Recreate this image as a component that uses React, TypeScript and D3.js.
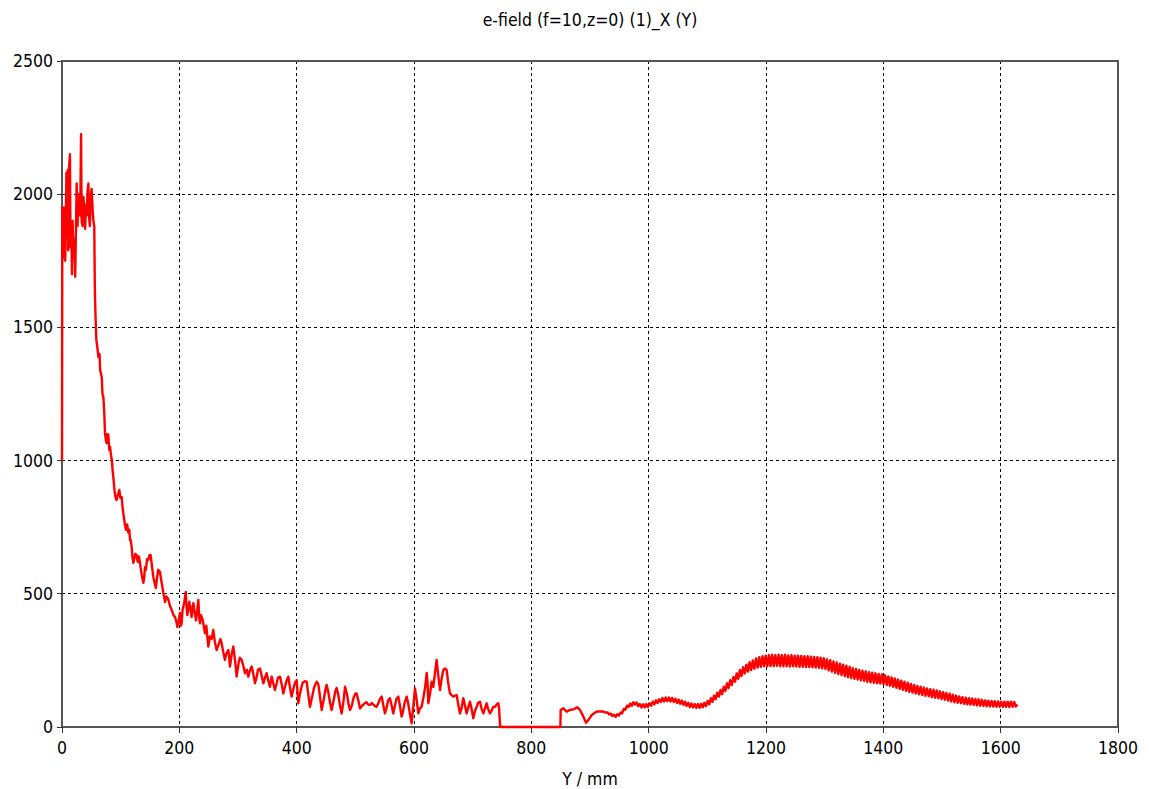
import React from "react";
import * as d3 from "d3";

// ---- data (Y in mm, field value) ----
const noisyX: number[] = [
  0, 0.5, 1.5, 2.5, 3.5, 4.5, 5.5, 6.5, 7.5, 8.5, 9.5, 10.5, 12, 13.5, 14.5, 16, 17, 18, 19.5, 21,
  22.5, 24, 25, 26.5, 28, 29.5, 31, 32.5, 33.5, 35, 36.5, 38, 39.5, 41, 42, 43.5, 45, 46, 47.5, 49,
  50.5, 52, 53.5, 55, 56, 57, 58.5, 60, 62, 64, 65, 67.7, 69, 70.5, 72, 73.3, 74.5, 76, 77.5, 79,
  80.5, 82, 83.5, 85, 86, 87.5, 89, 90, 91.5, 93, 95, 97.7, 99.5, 101.8, 103, 104.5, 106, 107.4, 109, 111,
  113, 114.8, 116, 117, 118.8, 120, 121.6, 123, 125, 127, 129, 131, 133, 134.5, 136, 138.7, 140, 141.5, 143, 145,
  147, 149, 151, 153, 155.7, 158, 160, 162, 164, 167, 168.5, 170, 171.5, 172.8, 174, 175.6, 178, 181, 184, 187,
  190, 192.7, 195, 196.6, 199, 201, 202.5, 204, 205.5, 206.8, 208.5, 211, 212, 213.6, 215, 217, 219, 221, 222.5, 224,
  226, 228.5, 230.5, 232.4, 234, 235.2, 237, 240, 243.7, 246, 249.4, 252, 255, 257.9, 260.5, 263.6, 267, 270, 272.1, 275,
  277.8, 280, 283.5, 285, 286.3, 289, 292, 295, 297.7, 301, 303, 306.2, 309, 311.9, 315, 317.6, 320, 323.3, 326, 329,
  332, 334, 337.5, 340, 343.2, 346, 348.8, 351.5, 354.5, 357.4, 360, 363, 366, 368, 371.6, 374.5, 377.2, 380, 383, 385.8,
  388.5, 391.4, 394, 397, 400, 402.8, 406, 410, 414, 417, 420, 422.7, 426, 430, 434, 437, 440, 442.6, 446, 449,
  451.1, 454, 457, 459.6, 463, 466, 468.2, 471, 474, 476.7, 480, 482.4, 486, 488.5, 490.9, 494, 497, 500, 502.2, 505,
  507.9, 511, 514, 516.4, 519, 522, 525, 528, 531, 533.5, 536.3, 539, 542, 544.9, 547, 550.5, 553, 556, 559, 562,
  564.7, 567, 570, 573.3, 576, 578.9, 581, 584, 587.5, 590, 593, 596, 598, 601.7, 604, 607.4, 610, 613, 616, 619,
  621.6, 623, 624.4, 627, 630.1, 632.9, 635, 638.6, 641, 644.3, 647, 650, 653, 655.7, 658, 661.3, 664, 667, 670, 672.7,
  675, 678.4, 681, 684, 687, 689.7, 692, 695.4, 698, 701.1, 704, 706.8, 709, 712.5, 715, 718.2, 721, 723.8, 726, 729.5,
  732, 735, 738, 741, 743.7, 745, 746.6, 747.5, 849.5, 850, 854.6, 860.2, 865.9, 871.6, 878.4, 883, 888.7, 893.2, 897.2, 902.9,
  911.4, 922.7, 927,
];
const noisyY: number[] = [
  1000, 1950, 1900, 1760, 1950, 1800, 1750, 1900, 2080, 1850, 2090, 1790, 2100, 2150, 1800, 1880, 1700, 1900, 1760, 1830,
  1690, 1900, 2040, 1880, 2000, 1950, 1920, 2225, 1900, 1880, 1990, 1950, 1870, 1960, 1920, 2010, 2040, 1920, 1880, 1990,
  2020, 1950, 1900, 1880, 1640, 1550, 1453, 1430, 1389, 1400, 1340, 1314, 1250, 1239, 1180, 1104, 1080, 1066, 1100, 1096,
  1040, 1051, 1020, 1002, 970, 938, 900, 878, 860, 852, 870, 890, 860, 863, 830, 803, 780, 758, 740, 760,
  730, 740, 700, 702, 676, 640, 616, 630, 650, 646, 620, 640, 616, 590, 570, 541, 560, 600, 590, 630,
  627, 645, 646, 610, 563, 540, 522, 560, 590, 582, 560, 540, 520, 503, 490, 469, 490, 480, 455, 439,
  420, 413, 395, 375, 400, 428, 380, 390, 440, 450, 470, 507, 460, 420, 440, 470, 440, 413, 450, 465,
  430, 400, 440, 477, 410, 389, 420, 400, 352, 380, 302, 340, 330, 364, 320, 289, 310, 330, 314, 280,
  252, 275, 289, 260, 227, 270, 302, 250, 189, 240, 260, 252, 230, 202, 215, 189, 210, 227, 200, 164,
  190, 215, 220, 195, 164, 185, 202, 175, 151, 189, 165, 139, 165, 185, 189, 160, 126, 150, 175, 189,
  150, 114, 140, 165, 176, 89, 130, 165, 172, 170, 120, 76, 110, 150, 170, 160, 110, 64, 100, 140,
  158, 130, 90, 64, 100, 135, 146, 120, 80, 51, 100, 151, 120, 85, 64, 80, 110, 125, 126, 100,
  70, 78, 85, 89, 93, 84, 83, 90, 84, 78, 76, 88, 105, 114, 90, 51, 70, 100, 108, 80,
  51, 75, 105, 114, 80, 39, 55, 90, 114, 90, 50, 14, 60, 145, 110, 51, 70, 76, 110, 150,
  203, 170, 89, 120, 170, 151, 190, 252, 200, 139, 180, 214, 220, 214, 170, 126, 120, 114, 118, 120,
  90, 51, 70, 108, 80, 51, 70, 95, 70, 33, 60, 76, 90, 95, 70, 51, 70, 89, 70, 51,
  60, 75, 76, 85, 89, 70, 8, 0, 0, 64, 70, 58, 64, 66, 74, 64, 39, 16, 26, 45,
  58, 58, 54,
];

// dense oscillating part, sampled on a regular Y grid
const combStart = 930;
const combStep = 2.75;
const combY: number[] = [
  55, 47, 50, 41, 46, 38, 48, 43, 54, 51, 68, 65, 80, 75, 88, 80, 93, 84, 92, 78,
  86, 73, 85, 73, 86, 75, 89, 80, 95, 85, 100, 90, 104, 94, 109, 96, 111, 97, 111, 96,
  109, 94, 106, 90, 103, 87, 99, 83, 95, 79, 91, 75, 88, 73, 86, 72, 86, 72, 87, 74,
  91, 78, 98, 85, 108, 94, 118, 104, 129, 114, 139, 123, 151, 135, 164, 146, 176, 158, 188, 170,
  201, 181, 214, 191, 224, 201, 234, 208, 243, 214, 250, 219, 257, 223, 262, 226, 266, 228, 268, 228,
  270, 229, 271, 229, 270, 230, 271, 228, 270, 228, 271, 228, 269, 227, 270, 228, 268, 227, 268, 226,
  267, 226, 266, 225, 266, 225, 264, 224, 263, 223, 262, 222, 260, 220, 258, 218, 254, 213, 251, 208,
  246, 203, 242, 199, 238, 195, 234, 191, 230, 187, 226, 184, 221, 181, 218, 178, 214, 175, 211, 173,
  209, 170, 206, 168, 204, 166, 202, 164, 199, 163, 197, 161, 194, 158, 190, 155, 186, 151, 182, 147,
  178, 143, 174, 140, 170, 136, 166, 132, 162, 129, 158, 126, 154, 123, 151, 120, 148, 117, 145, 115,
  142, 112, 140, 110, 137, 108, 134, 105, 131, 102, 128, 99, 125, 96, 121, 93, 118, 91, 115, 89,
  112, 87, 110, 85, 108, 84, 107, 83, 105, 81, 104, 80, 102, 79, 100, 78, 99, 77, 98, 77,
  97, 76, 96, 76, 95, 75, 95, 75, 95, 75, 95, 76, 94, 77, 84,
];

const xTicks = [0, 200, 400, 600, 800, 1000, 1200, 1400, 1600, 1800];
const yTicks = [0, 500, 1000, 1500, 2000, 2500];
const title = "e-field (f=10,z=0) (1)_X (Y)";
const xLabel = "Y / mm";

const W = 1149;
const H = 789;
const M = { left: 62, right: 1118, top: 61, bottom: 727 };
const FONT = "'DejaVu Sans Condensed', 'Liberation Sans', sans-serif";

export default function App() {
  const x = d3.scaleLinear().domain([0, 1800]).range([M.left, M.right]);
  const y = d3.scaleLinear().domain([0, 2500]).range([M.bottom, M.top]);

  const pts: [number, number][] = noisyX.map((v, i) => [v, noisyY[i]]);
  combY.forEach((v, i) => pts.push([combStart + i * combStep, v]));

  const line = d3
    .line<[number, number]>()
    .x((d) => x(d[0]))
    .y((d) => y(d[1]));

  return (
    <div style={{ position: "absolute", left: 0, top: 0 }}>
      <svg width={W} height={H} style={{ display: "block", background: "#fff" }}>
        <rect x={0} y={0} width={W} height={H} fill="#fff" />
        {/* grid */}
        {xTicks
          .filter((t) => t > 0 && t < 1800)
          .map((t) => (
            <line
              key={"gx" + t}
              x1={x(t)}
              x2={x(t)}
              y1={M.top}
              y2={M.bottom}
              stroke="#000"
              strokeWidth={1}
              strokeDasharray="3,3"
              shapeRendering="crispEdges"
            />
          ))}
        {yTicks
          .filter((t) => t > 0 && t < 2500)
          .map((t) => (
            <line
              key={"gy" + t}
              x1={M.left}
              x2={M.right}
              y1={y(t)}
              y2={y(t)}
              stroke="#000"
              strokeWidth={1}
              strokeDasharray="3,3"
              shapeRendering="crispEdges"
            />
          ))}
        {/* frame */}
        <rect
          x={M.left}
          y={M.top}
          width={M.right - M.left}
          height={M.bottom - M.top}
          fill="none"
          stroke="#555"
          strokeWidth={1.5}
          shapeRendering="crispEdges"
        />
        {/* ticks */}
        {xTicks.map((t) => (
          <g key={"tx" + t}>
            <line x1={x(t)} x2={x(t)} y1={M.bottom} y2={M.bottom + 6} stroke="#333" shapeRendering="crispEdges" />
            <text x={x(t)} y={M.bottom + 27} textAnchor="middle" fontFamily={FONT} fontSize={17.5} fill="#000">
              {t}
            </text>
          </g>
        ))}
        {yTicks.map((t) => (
          <g key={"ty" + t}>
            <line x1={M.left - 5} x2={M.left} y1={y(t)} y2={y(t)} stroke="#333" shapeRendering="crispEdges" />
            <text x={M.left - 9} y={y(t) + 6} textAnchor="end" fontFamily={FONT} fontSize={17.5} fill="#000">
              {t}
            </text>
          </g>
        ))}
        {/* data */}
        <path d={line(pts) || ""} fill="none" stroke="#ff0000" strokeWidth={2.4} strokeLinejoin="round" />
        {/* labels */}
        <text x={(M.left + M.right) / 2} y={26} textAnchor="middle" fontFamily={FONT} fontSize={17.5} fill="#000">
          {title}
        </text>
        <text x={(M.left + M.right) / 2} y={785} textAnchor="middle" fontFamily={FONT} fontSize={17.5} fill="#000">
          {xLabel}
        </text>
      </svg>
    </div>
  );
}
